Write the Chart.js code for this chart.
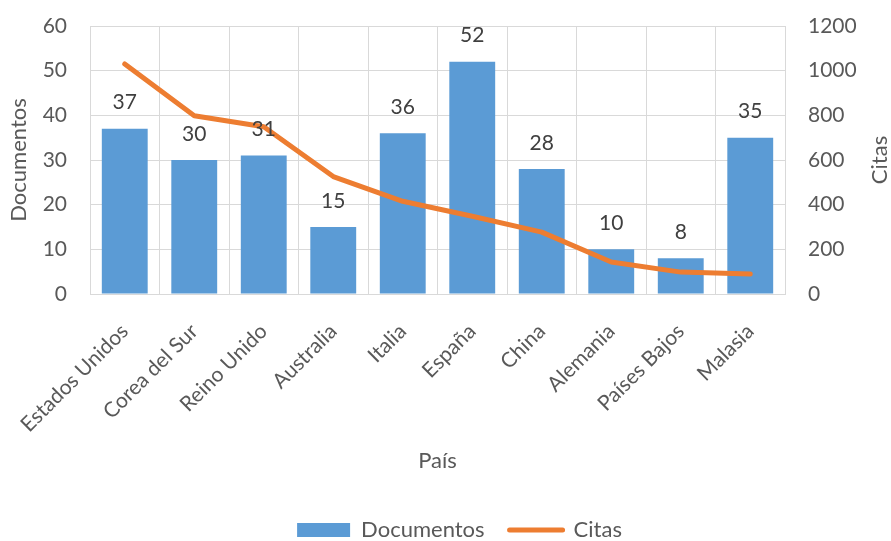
<!DOCTYPE html>
<html>
<head>
<meta charset="utf-8">
<script src="https://cdn.jsdelivr.net/npm/chart.js@4.4.1/dist/chart.umd.min.js"></script>
<style>
  html, body { margin: 0; padding: 0; background: #ffffff; }
  #wrap { width: 891px; height: 541px; }
</style>
</head>
<body>
<div id="wrap"><canvas id="chart" width="891" height="541"></canvas></div>
<script>
// Documentos y citas por país
const paises = ['Estados Unidos', 'Corea del Sur', 'Reino Unido', 'Australia', 'Italia',
                'España', 'China', 'Alemania', 'Países Bajos', 'Malasia'];
const documentos = [37, 30, 31, 15, 36, 52, 28, 10, 8, 35];
const citas = [1030, 798, 749, 526, 415, 348, 277, 143, 98, 89];

const FONT = 'Lato, "Open Sans", sans-serif';
const TEXT = '#595959';
const GRID = '#d9d9d9';
const CLEAR = 'rgba(0,0,0,0)';

// Value labels above each bar
const barLabels = {
  id: 'barLabels',
  afterDatasetsDraw(chart) {
    const ctx = chart.ctx;
    const idx = chart.data.datasets.findIndex(d => d.type === 'bar');
    const meta = chart.getDatasetMeta(idx);
    ctx.save();
    ctx.font = '21px ' + FONT;
    ctx.fillStyle = '#404040';
    ctx.textAlign = 'center';
    ctx.textBaseline = 'middle';
    meta.data.forEach((bar, i) => {
      ctx.fillText(String(documentos[i]), bar.x, bar.y - 26);
    });
    ctx.restore();
  }
};

// Right axis title, reading bottom-to-top
const rightTitle = {
  id: 'rightTitle',
  afterDraw(chart) {
    const ctx = chart.ctx;
    const area = chart.chartArea;
    ctx.save();
    ctx.font = '22px ' + FONT;
    ctx.fillStyle = TEXT;
    ctx.textAlign = 'center';
    ctx.textBaseline = 'middle';
    ctx.translate(880, (area.top + area.bottom) / 2);
    ctx.rotate(-Math.PI / 2);
    ctx.fillText('Citas', 0, 0);
    ctx.restore();
  }
};

// Nudge the legend a little to the right
const legendShift = {
  id: 'legendShift',
  afterLayout(chart) {
    if (chart.legend) {
      chart.legend.left += 14;
      chart.legend.right += 14;
    }
  }
};

new Chart(document.getElementById('chart'), {
  data: {
    labels: paises,
    datasets: [
      {
        type: 'line',
        label: 'Citas',
        data: citas,
        yAxisID: 'y1',
        borderColor: '#ed7d31',
        backgroundColor: '#ed7d31',
        borderWidth: 5,
        borderCapStyle: 'round',
        borderJoinStyle: 'round',
        pointRadius: 0,
        tension: 0,
        order: 0
      },
      {
        type: 'bar',
        label: 'Documentos',
        data: documentos,
        yAxisID: 'y',
        backgroundColor: '#5b9bd5',
        borderWidth: 0,
        barPercentage: 0.66,
        categoryPercentage: 1.0,
        order: 1
      }
    ]
  },
  options: {
    responsive: false,
    animation: false,
    layout: { padding: { top: 26, right: 0, bottom: -10, left: 0 } },
    plugins: {
      tooltip: { enabled: false },
      legend: {
        position: 'bottom',
        reverse: true,
        labels: {
          usePointStyle: true,
          pointStyleWidth: 53,
          boxHeight: 14,
          padding: 25,
          color: TEXT,
          font: { family: FONT, size: 22 },
          generateLabels(chart) {
            const items = Chart.defaults.plugins.legend.labels.generateLabels(chart);
            items.forEach(it => {
              if (it.text === 'Citas') {
                it.pointStyle = 'line';
                it.strokeStyle = '#ed7d31';
                it.lineWidth = 5;
                it.lineCap = 'round';
              } else {
                it.pointStyle = 'rect';
                it.lineWidth = 0;
              }
            });
            return items;
          }
        }
      }
    },
    scales: {
      x: {
        grid: { color: GRID, lineWidth: 1, drawTicks: true, tickLength: 25, tickColor: CLEAR, offset: true },
        border: { color: GRID },
        ticks: {
          color: TEXT,
          font: { family: FONT, size: 21 },
          minRotation: 45,
          maxRotation: 45,
          autoSkip: false,
          padding: 0
        },
        title: {
          display: true,
          text: 'País',
          color: TEXT,
          font: { family: FONT, size: 22 },
          padding: { top: 0, bottom: 20 }
        },
        afterFit(scale) { scale.height = 200; }
      },
      y: {
        position: 'left',
        min: 0,
        max: 60,
        grid: { color: GRID, lineWidth: 1, drawTicks: true, tickLength: 23, tickColor: CLEAR },
        border: { display: false },
        ticks: {
          stepSize: 10,
          color: TEXT,
          font: { family: FONT, size: 21 },
          padding: 0
        },
        title: {
          display: true,
          text: 'Documentos',
          color: TEXT,
          font: { family: FONT, size: 22 },
          padding: { top: 6, bottom: 0 }
        },
        afterFit(scale) { scale.width = 90; }
      },
      y1: {
        position: 'right',
        min: 0,
        max: 1200,
        grid: { drawOnChartArea: false, drawTicks: true, tickLength: 23, tickColor: CLEAR },
        border: { display: false },
        ticks: {
          stepSize: 200,
          color: TEXT,
          font: { family: FONT, size: 21 },
          padding: 0,
          callback: (v) => String(v)
        },
        afterFit(scale) { scale.width = 106; }
      }
    }
  },
  plugins: [barLabels, rightTitle, legendShift]
});
</script>
</body>
</html>
